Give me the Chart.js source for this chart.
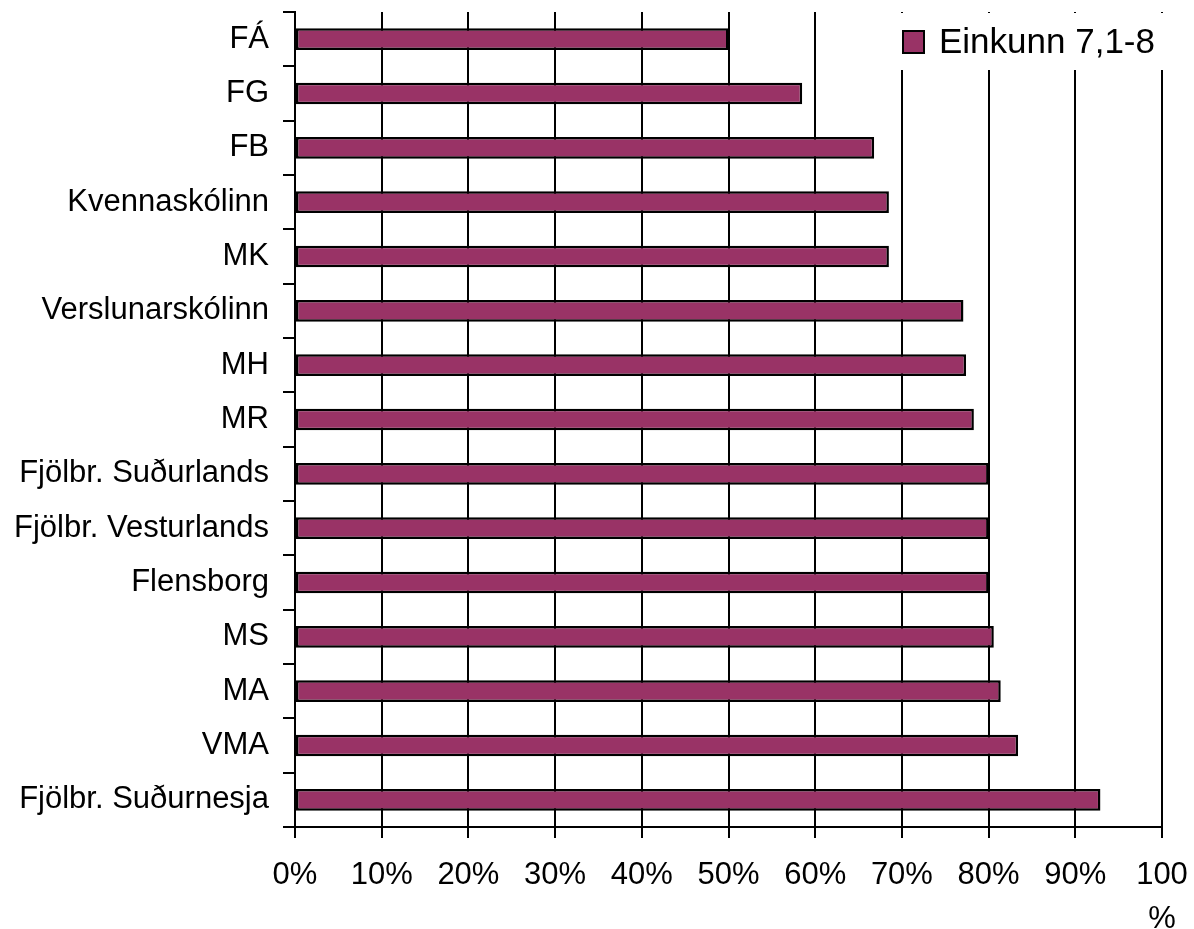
<!DOCTYPE html>
<html>
<head>
<meta charset="utf-8">
<script src="https://cdn.jsdelivr.net/npm/chart.js@4.4.1/dist/chart.umd.min.js"></script>
<style>
  html, body { margin: 0; padding: 0; background: #fff; }
  #wrap { width: 1194px; height: 929px; }
</style>
</head>
<body>
<div id="wrap"><canvas id="chart" width="1194" height="929"></canvas></div>
<script>
 const schools = ['FÁ', 'FG', 'FB', 'Kvennaskólinn', 'MK', 'Verslunarskólinn', 'MH', 'MR',
    'Fjölbr. Suðurlands', 'Fjölbr. Vesturlands', 'Flensborg', 'MS', 'MA', 'VMA', 'Fjölbr. Suðurnesja'];
 const shares = [50, 58.5, 66.8, 68.5, 68.5, 77.1, 77.4, 78.3, 80, 80, 80, 80.6, 81.4, 83.4, 92.9];
 const seriesName = 'Einkunn 7,1-8';
 const xTickLabels = ['0%', '10%', '20%', '30%', '40%', '50%', '60%', '70%', '80%', '90%', ['100', '%']];

 const FONT = '"Liberation Sans", Arial, sans-serif';

 // legend drawn by hand so it can sit on a white box over the gridlines
 const boxLegend = {
    id: 'boxLegend',
    afterDraw(chart) {
       const ctx = chart.ctx;
       const area = chart.chartArea;
       const ds = chart.data.datasets[0];
       ctx.save();
       ctx.fillStyle = '#ffffff';
       ctx.fillRect(area.right - 268, area.top + 1, 282, 57);
       ctx.fillStyle = ds.backgroundColor;
       ctx.fillRect(area.right - 259, area.top + 19, 21, 22);
       ctx.lineWidth = 2;
       ctx.strokeStyle = '#000';
       ctx.strokeRect(area.right - 259, area.top + 19, 21, 22);
       ctx.fillStyle = '#000';
       ctx.font = '35px ' + FONT;
       ctx.textBaseline = 'middle';
       ctx.textAlign = 'left';
       ctx.fillText(ds.label, area.right - 223, area.top + 31);
       ctx.restore();
    }
 };

 const ctx = document.getElementById('chart').getContext('2d');
 new Chart(ctx, {
    type: 'bar',
    data: {
       labels: schools,
       datasets: [{
          label: seriesName,
          data: shares,
          backgroundColor: '#993366',
          borderColor: '#000000',
          borderWidth: 2.5,
          borderSkipped: false,
          barPercentage: 0.4,
          categoryPercentage: 1
       }]
    },
    options: {
       indexAxis: 'y',
       responsive: false,
       animation: false,
       devicePixelRatio: 1,
       layout: {
          padding: { top: 12, right: 32, left: 0, bottom: 0 }
       },
       plugins: {
          legend: { display: false },
          tooltip: { enabled: false }
       },
       scales: {
          x: {
             min: 0,
             max: 100,
             afterFit: (scale) => {
                scale.height = 102;
                scale.paddingLeft = 0;
                scale.paddingRight = 0;
             },
             ticks: {
                stepSize: 10,
                color: '#000',
                padding: 16,
                maxRotation: 0,
                autoSkip: false,
                font: { family: FONT, size: 31, lineHeight: 1.4 },
                callback: (value, index) => xTickLabels[index]
             },
             grid: {
                color: '#000',
                lineWidth: 2,
                tickLength: 11,
                drawOnChartArea: true
             },
             border: { color: '#000', width: 2 }
          },
          y: {
             afterFit: (scale) => {
                scale.width = 295;
                scale.paddingTop = 0;
                scale.paddingBottom = 0;
             },
             ticks: {
                color: '#000',
                padding: 14,
                autoSkip: false,
                font: { family: FONT, size: 31 }
             },
             grid: {
                offset: true,
                color: '#000',
                lineWidth: 2,
                tickLength: 12,
                drawOnChartArea: false
             },
             border: { color: '#000', width: 2 }
          }
       }
    },
    plugins: [boxLegend]
 });
</script>
</body>
</html>
